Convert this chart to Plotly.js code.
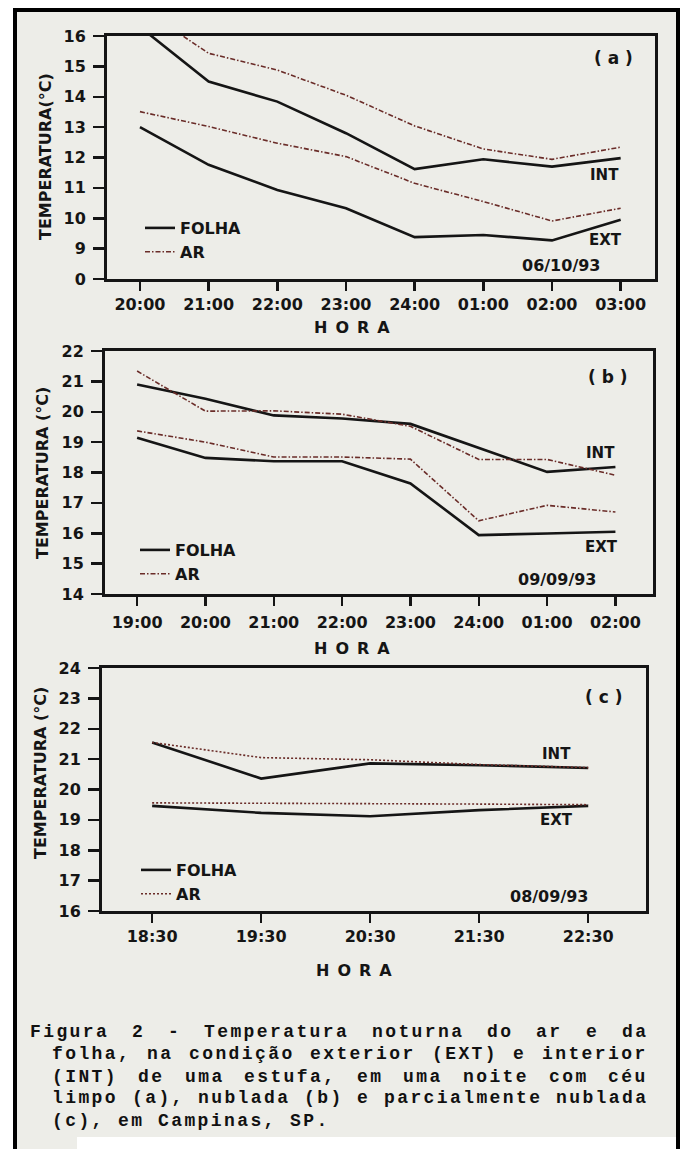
<!DOCTYPE html>
<html>
<head>
<meta charset="utf-8">
<script src="https://cdn.plot.ly/plotly-3.0.1.min.js"></script>
<style>html,body{margin:0;padding:0;background:#fff;}#chart{width:682px;height:1149px;}</style>
</head>
<body>
<div id="chart"></div>
<script>
// ---------- data ----------
const hoursA = ['20:00','21:00','22:00','23:00','24:00','01:00','02:00','03:00'];
const aIntFolha = [16.3, 14.5, 13.84, 12.8, 11.62, 11.94, 11.7, 11.98];
const aIntAr    = [16.95, 15.43, 14.88, 14.05, 13.04, 12.28, 11.94, 12.34];
const aExtFolha = [13.0, 11.76, 10.93, 10.33, 9.38, 9.45, 9.27, 9.95];
const aExtAr    = [13.51, 13.02, 12.47, 12.03, 11.15, 10.55, 9.91, 10.33];
const aTickVals = [8, 9, 10, 11, 12, 13, 14, 15, 16];
const aTickText = ['0', '9', '10', '11', '12', '13', '14', '15', '16'];

const hoursB = ['19:00','20:00','21:00','22:00','23:00','24:00','01:00','02:00'];
const bIntFolha = [20.9, 20.43, 19.88, 19.78, 19.6, 18.82, 18.02, 18.18];
const bIntAr    = [21.34, 20.02, 20.03, 19.92, 19.52, 18.43, 18.43, 17.91];
const bExtFolha = [19.14, 18.48, 18.37, 18.37, 17.64, 15.94, 15.99, 16.05];
const bExtAr    = [19.37, 19.0, 18.51, 18.51, 18.44, 16.41, 16.92, 16.7];
const bTickVals = [14, 15, 16, 17, 18, 19, 20, 21, 22];

const hoursC = ['18:30','19:30','20:30','21:30','22:30'];
const cIntFolha = [21.55, 20.36, 20.86, 20.8, 20.71];
const cIntAr    = [21.55, 21.05, 20.98, 20.82, 20.72];
const cExtFolha = [19.46, 19.23, 19.12, 19.32, 19.46];
const cExtAr    = [19.56, 19.55, 19.55, 19.52, 19.5];
const cTickVals = [16, 17, 18, 19, 20, 21, 22, 23, 24];

const seriesNames = ['FOLHA', 'AR'];
const captionLines = [
  'Figura 2 - Temperatura noturna do ar e da',
  'folha, na condição exterior (EXT) e interior',
  '(INT) de uma estufa, em uma noite com céu',
  'limpo (a), nublada (b) e parcialmente nublada',
  '(c), em Campinas, SP.'
];

// ---------- layout helpers ----------
const W = 682, H = 1149;
const px = x => x / W;
const py = y => 1 - y / H;
const INK = '#151515';
const AR_COLOR = '#6a2c28';
const BG = '#ededE8';
const SANS = 'DejaVu Sans, sans-serif';

function folha(x, y, xa, ya, legend, show) {
  return {x: x, y: y, xaxis: xa, yaxis: ya, type: 'scatter', mode: 'lines',
    name: seriesNames[0], legend: legend, showlegend: show,
    line: {color: INK, width: 2.6}, hoverinfo: 'x+y'};
}
function ar(x, y, xa, ya, legend, show, dash) {
  return {x: x, y: y, xaxis: xa, yaxis: ya, type: 'scatter', mode: 'lines',
    name: seriesNames[1], legend: legend, showlegend: show,
    line: {color: AR_COLOR, width: 1.6, dash: dash}, hoverinfo: 'x+y'};
}
const dashAB = '5px,2px,1.5px,2px';
const dashC = '2px,2px';

const traces = [
  folha(hoursA, aIntFolha, 'x', 'y', 'legend', true),
  ar(hoursA, aIntAr, 'x', 'y', 'legend', true, dashAB),
  folha(hoursA, aExtFolha, 'x', 'y', 'legend', false),
  ar(hoursA, aExtAr, 'x', 'y', 'legend', false, dashAB),
  folha(hoursB, bIntFolha, 'x2', 'y2', 'legend2', true),
  ar(hoursB, bIntAr, 'x2', 'y2', 'legend2', true, dashAB),
  folha(hoursB, bExtFolha, 'x2', 'y2', 'legend2', false),
  ar(hoursB, bExtAr, 'x2', 'y2', 'legend2', false, dashAB),
  folha(hoursC, cIntFolha, 'x3', 'y3', 'legend3', true),
  ar(hoursC, cIntAr, 'x3', 'y3', 'legend3', true, dashC),
  folha(hoursC, cExtFolha, 'x3', 'y3', 'legend3', false),
  ar(hoursC, cExtAr, 'x3', 'y3', 'legend3', false, dashC)
];

const tickFont = {family: SANS, size: 16, weight: 'bold', color: INK};
function xAxis(l, r, anchor, range, standoff) {
  return {domain: [px(l), px(r)], anchor: anchor, type: 'category', range: range,
    showline: true, mirror: true, linewidth: 3, linecolor: INK,
    ticks: 'outside', ticklen: 9, tickwidth: 2.5, tickcolor: INK,
    showgrid: false, zeroline: false, tickfont: tickFont, ticklabelstandoff: standoff,
    fixedrange: true};
}
function yAxis(t, b, anchor, range, vals, text) {
  const ax = {domain: [py(b), py(t)], anchor: anchor, range: range,
    showline: true, mirror: true, linewidth: 3, linecolor: INK,
    ticks: 'outside', ticklen: 11, tickwidth: 2.5, tickcolor: INK,
    showgrid: false, zeroline: false, tickfont: tickFont, ticklabelstandoff: 4,
    tickmode: 'array', tickvals: vals, fixedrange: true};
  if (text) ax.ticktext = text;
  return ax;
}

function label(x, y, text, size) {
  return {xref: 'paper', yref: 'paper', x: px(x), y: py(y), text: text, showarrow: false,
    xanchor: 'center', yanchor: 'middle', font: {family: SANS, size: size || 15, weight: 'bold', color: INK}};
}
function ytitle(x, y, text) {
  const a = label(x, y, text, 16);
  a.textangle = -90;
  return a;
}
const HORA = 'H\u2002O\u2002R\u2002A';

const annotations = [
  label(613, 58, '( a )', 17), label(604, 175, 'INT'), label(605, 240, 'EXT'), label(561, 265, '06/10/93', 16),
  label(352, 328, HORA, 16), ytitle(46, 157, 'TEMPERATURA(°C)'),
  label(608, 377, '( b )', 17), label(600, 453, 'INT'), label(601, 547, 'EXT'), label(557, 579, '09/09/93', 16),
  label(352, 648, HORA, 16), ytitle(42, 473, 'TEMPERATURA (°C)'),
  label(603, 697, '( c )', 17), label(556, 754, 'INT'), label(556, 820, 'EXT'), label(549, 896, '08/09/93', 16),
  label(354, 970, HORA, 16), ytitle(40, 773, 'TEMPERATURA (°C)')
];

// caption: justified typewriter text, one annotation per word
const captionStart = annotations.length;
const ADV = 13.2;            // advance per character (px)
const LS = 2.4;              // extra letter spacing applied after render
const capFont = {family: 'Liberation Mono, DejaVu Sans Mono, monospace', size: 18, weight: 'bold', color: '#111111'};
const capY = [1032, 1054, 1076.5, 1098, 1121];
const capLeft = [30, 52, 52, 52, 52];
const capRight = 648;
captionLines.forEach((line, i) => {
  const words = line.split(' ');
  const chars = words.reduce((s, w) => s + w.length, 0);
  const justify = i < captionLines.length - 1;
  const gap = justify ? (capRight - capLeft[i] - chars * ADV) / (words.length - 1) : ADV;
  let x = capLeft[i];
  words.forEach(w => {
    annotations.push({xref: 'paper', yref: 'paper', x: px(x - 2), y: py(capY[i]), text: w,
      showarrow: false, xanchor: 'left', yanchor: 'middle', align: 'left', font: capFont});
    x += w.length * ADV + gap;
  });
});

const legendBase = {xanchor: 'left', yanchor: 'top', bgcolor: 'rgba(0,0,0,0)', borderwidth: 0,
  font: {family: SANS, size: 16, weight: 'bold', color: INK}, tracegroupgap: 0};

const layout = {
  width: W, height: H, margin: {l: 0, r: 0, t: 0, b: 0},
  paper_bgcolor: '#ffffff', plot_bgcolor: BG, showlegend: true,
  xaxis: xAxis(107, 655, 'y', [-0.48, 7.5], 0),
  yaxis: yAxis(36, 279, 'x', [8, 16], aTickVals, aTickText),
  xaxis2: xAxis(105, 653, 'y2', [-0.47, 7.55], 3),
  yaxis2: yAxis(351, 594, 'x2', [14, 22], bTickVals),
  xaxis3: xAxis(102, 646, 'y3', [-0.46, 4.53], 0),
  yaxis3: yAxis(668, 911, 'x3', [16, 24], cTickVals),
  legend: Object.assign({x: px(140), y: py(211)}, legendBase),
  legend2: Object.assign({x: px(135), y: py(533)}, legendBase),
  legend3: Object.assign({x: px(136), y: py(853)}, legendBase),
  annotations: annotations,
  shapes: [
    {type: 'rect', xref: 'paper', yref: 'paper', x0: px(15), x1: px(678), y0: py(1175), y1: py(10),
      fillcolor: BG, line: {color: '#000', width: 4}, layer: 'below'},
    {type: 'rect', xref: 'paper', yref: 'paper', x0: px(77), x1: px(676), y0: py(1175), y1: py(1137),
      fillcolor: '#ffffff', line: {width: 0}, layer: 'below'}
  ]
};

Plotly.newPlot('chart', traces, layout, {displayModeBar: false, staticPlot: true}).then(() => {
  document.querySelectorAll('#chart g.annotation').forEach(g => {
    const idx = +g.getAttribute('data-index');
    if (idx >= captionStart) {
      g.querySelectorAll('text').forEach(t => { t.style.letterSpacing = LS + 'px'; });
    }
  });
});
</script>
</body>
</html>
